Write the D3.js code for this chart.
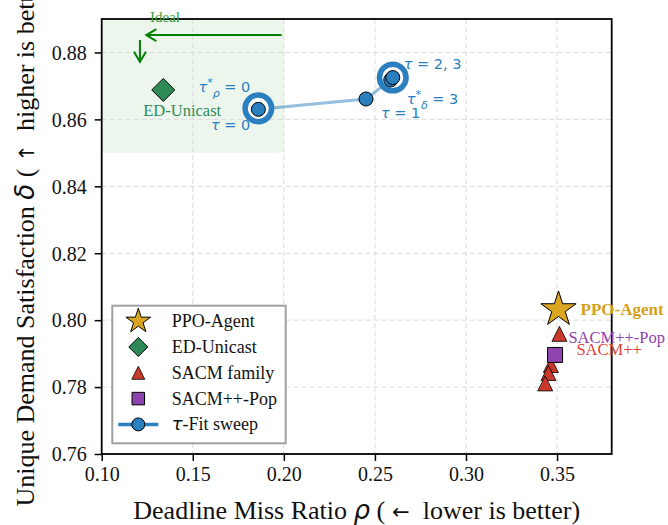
<!DOCTYPE html>
<html>
<head>
<meta charset="utf-8">
<script src="https://cdn.jsdelivr.net/npm/d3@7"></script>
<style>
  body { margin: 0; background: #fff; }
  svg { display: block; }
</style>
</head>
<body>
<svg id="chart" width="668" height="525"></svg>
<script>
// ---- data ----
const xDomain = [0.10, 0.38];
const yDomain = [0.76, 0.89];
const xTicks = [0.10, 0.15, 0.20, 0.25, 0.30, 0.35];
const yTicks = [0.76, 0.78, 0.80, 0.82, 0.84, 0.86, 0.88];

// tau-Fit sweep, tau = 0..3
const tauValues = [0, 1, 2, 3];
const tauMiss = [0.1860, 0.2451, 0.2587, 0.2598];
const tauSat  = [0.8630, 0.8661, 0.8718, 0.8725];

const ppoMiss = [0.3508];
const ppoSat  = [0.8032];
const edMiss  = [0.1338];
const edSat   = [0.8688];
const sacmMiss = [0.3513, 0.3466, 0.3453, 0.3435];
const sacmSat  = [0.7959, 0.7866, 0.7842, 0.7811];
const popMiss = [0.3489];
const popSat  = [0.7896];

// "ideal" corner region and the two guide arrows
const idealX = [0.10, 0.20];
const idealY = [0.85, 0.89];
const arrowH = [[0.1988, 0.8852], [0.1245, 0.8852]];
const arrowV = [[0.1210, 0.8837], [0.1210, 0.8772]];

// ---- style ----
const C = {
  blue: "#2a7fbf", gold: "#daa520", green: "#2e8b57", red: "#c9392b",
  purple: "#8e44ad", sacmLabel: "#d9443a", ideal: "#008000"
};
const SERIF = "'Liberation Serif','Times New Roman',Times,serif";
const MATH = "'DejaVu Sans',sans-serif";

const plot = { left: 101.7, right: 611.7, top: 19, bottom: 454 };

const svg = d3.select("#chart");
const x = d3.scaleLinear().domain(xDomain).range([plot.left, plot.right]);
const y = d3.scaleLinear().domain(yDomain).range([plot.bottom, plot.top]);

// marker paths
function starPath(R) {
  const r = R * 0.381966, pts = [];
  for (let i = 0; i < 10; i++) {
    const a = -Math.PI / 2 + i * Math.PI / 5, rr = i % 2 ? r : R;
    pts.push([rr * Math.cos(a), rr * Math.sin(a)]);
  }
  return "M" + pts.map(p => p.join(",")).join("L") + "Z";
}
const diamondPath = h => `M0,${-h}L${h},0L0,${h}L${-h},0Z`;
const trianglePath = s => `M0,${-s / 2}L${s / 2},${s / 2}L${-s / 2},${s / 2}Z`;
const squarePath = s => `M${-s / 2},${-s / 2}h${s}v${s}h${-s}Z`;

// ideal region shading
svg.append("rect")
  .attr("x", x(idealX[0])).attr("y", y(idealY[1]))
  .attr("width", x(idealX[1]) - x(idealX[0]))
  .attr("height", y(idealY[0]) - y(idealY[1]))
  .attr("fill", "#008000").attr("fill-opacity", 0.07);

// grid
const grid = svg.append("g").attr("stroke", "#dadada").attr("stroke-width", 1)
  .attr("stroke-dasharray", "5,3");
grid.selectAll(".gx").data(xTicks.slice(1)).join("line")
  .attr("x1", d => x(d)).attr("x2", d => x(d))
  .attr("y1", plot.top).attr("y2", plot.bottom);
grid.selectAll(".gy").data(yTicks.slice(1)).join("line")
  .attr("y1", d => y(d)).attr("y2", d => y(d))
  .attr("x1", plot.left).attr("x2", plot.right);

// axes
const xAxis = d3.axisBottom(x).tickValues(xTicks).tickFormat(d3.format(".2f"))
  .tickSize(7).tickPadding(6);
const yAxis = d3.axisLeft(y).tickValues(yTicks).tickFormat(d3.format(".2f"))
  .tickSize(7).tickPadding(8);
const gx = svg.append("g").attr("transform", `translate(0,${plot.bottom})`).call(xAxis);
const gy = svg.append("g").attr("transform", `translate(${plot.left},0)`).call(yAxis);
[gx, gy].forEach(g => {
  g.select(".domain").remove();
  g.selectAll(".tick line").attr("stroke", "#000").attr("stroke-width", 1.5);
  g.selectAll(".tick text").attr("fill", "#111").style("font-family", SERIF)
    .style("font-size", "20px");
});
gy.selectAll(".tick text").attr("dy", "0.34em");

// sweep connecting line
const line = d3.line().x(i => x(tauMiss[i])).y(i => y(tauSat[i]));
svg.append("path").datum(d3.range(tauValues.length))
  .attr("d", line).attr("fill", "none")
  .attr("stroke", C.blue).attr("stroke-opacity", 0.5).attr("stroke-width", 3);

// highlight rings around tau*_rho (tau=0) and tau*_delta (tau=3)
const ringIdx = [0, 3];
svg.selectAll(".ring").data(ringIdx).join("circle")
  .attr("cx", i => x(tauMiss[i])).attr("cy", i => y(tauSat[i]) - (i === 3 ? 0 : 1))
  .attr("r", 13.3).attr("fill", "#fff")
  .attr("stroke", C.blue).attr("stroke-width", 5.5);

// sweep points
svg.selectAll(".tau").data(d3.range(tauValues.length)).join("circle")
  .attr("cx", i => x(tauMiss[i])).attr("cy", i => y(tauSat[i]))
  .attr("r", 7).attr("fill", C.blue).attr("stroke", "#000").attr("stroke-width", 1);

// ED-Unicast
svg.selectAll(".ed").data(d3.range(edMiss.length)).join("path")
  .attr("d", diamondPath(11.5))
  .attr("transform", i => `translate(${x(edMiss[i])},${y(edSat[i])})`)
  .attr("fill", C.green).attr("stroke", "#000").attr("stroke-width", 1);

// SACM family
svg.selectAll(".sacm").data(d3.range(sacmMiss.length)).join("path")
  .attr("d", trianglePath(15))
  .attr("transform", i => `translate(${x(sacmMiss[i])},${y(sacmSat[i])})`)
  .attr("fill", C.red).attr("stroke", "#000").attr("stroke-width", 0.8);

// SACM++-Pop
svg.selectAll(".pop").data(d3.range(popMiss.length)).join("path")
  .attr("d", squarePath(15))
  .attr("transform", i => `translate(${x(popMiss[i])},${y(popSat[i])})`)
  .attr("fill", C.purple).attr("stroke", "#000").attr("stroke-width", 1);

// PPO-Agent
svg.selectAll(".ppo").data(d3.range(ppoMiss.length)).join("path")
  .attr("d", starPath(18.5))
  .attr("transform", i => `translate(${x(ppoMiss[i])},${y(ppoSat[i])})`)
  .attr("fill", C.gold).attr("stroke", "#000").attr("stroke-width", 1);

// frame
svg.append("rect").attr("x", plot.left).attr("y", plot.top)
  .attr("width", plot.right - plot.left).attr("height", plot.bottom - plot.top)
  .attr("fill", "none").attr("stroke", "#000").attr("stroke-width", 1.8);

// ideal arrows
function arrow(seg) {
  const [p0, p1] = seg.map(p => [x(p[0]), y(p[1])]);
  const ang = Math.atan2(p1[1] - p0[1], p1[0] - p0[0]);
  const L = 10, Wd = 6;
  const b = [p1[0] - L * Math.cos(ang), p1[1] - L * Math.sin(ang)];
  const n = [-Math.sin(ang), Math.cos(ang)];
  const g = svg.append("g").attr("stroke", C.ideal).attr("stroke-width", 2)
    .attr("fill", "none");
  g.append("line").attr("x1", p0[0]).attr("y1", p0[1]).attr("x2", p1[0]).attr("y2", p1[1]);
  g.append("path").attr("d",
    `M${b[0] + n[0] * Wd},${b[1] + n[1] * Wd}L${p1[0]},${p1[1]}L${b[0] - n[0] * Wd},${b[1] - n[1] * Wd}`);
}
arrow(arrowH);
arrow(arrowV);
svg.append("text").attr("x", 165).attr("y", 22).attr("text-anchor", "middle")
  .attr("fill", "#3a9e3a").style("font-family", SERIF).style("font-size", "15px")
  .text("Ideal");

// point annotations
function mathLabel(px, py, anchor, parts) {
  const t = svg.append("text").attr("x", px).attr("y", py).attr("text-anchor", anchor)
    .attr("fill", C.blue).style("font-family", MATH).style("font-size", "14.5px");
  parts.forEach(p => {
    const s = t.append("tspan").text(p.t);
    if (p.i) s.style("font-style", "italic");
    if (p.dy) s.attr("dy", p.dy);
    if (p.fs) s.style("font-size", p.fs);
  });
  return t;
}
const p0 = [x(tauMiss[0]), y(tauSat[0])];
const p1 = [x(tauMiss[1]), y(tauSat[1])];
const p3 = [x(tauMiss[3]), y(tauSat[3])];
mathLabel(p0[0] - 8, p0[1] - 17, "end", [
  { t: "τ", i: true }, { t: "*", dy: -6, fs: "11px" }, { t: "ρ", i: true, dy: 11, fs: "11px" },
  { t: " = 0", dy: -5 }]);
mathLabel(p0[0] - 8, p0[1] + 21, "end", [{ t: "τ", i: true }, { t: " = " + tauValues[0] }]);
mathLabel(p1[0] + 15, p1[1] + 19, "start", [{ t: "τ", i: true }, { t: " = " + tauValues[1] }]);
mathLabel(p3[0] + 11, p3[1] - 9, "start", [{ t: "τ", i: true }, { t: ` = ${tauValues[2]}, ${tauValues[3]}` }]);
mathLabel(p3[0] + 14, p3[1] + 26, "start", [
  { t: "τ", i: true }, { t: "*", dy: -6, fs: "11px" }, { t: "δ", i: true, dy: 11, fs: "11px" },
  { t: " = 3", dy: -5 }]);

svg.append("text").attr("x", x(edMiss[0]) - 20).attr("y", y(edSat[0]) + 26)
  .attr("fill", C.green).style("font-family", SERIF).style("font-size", "16.5px")
  .text("ED-Unicast");
svg.append("text").attr("x", x(ppoMiss[0]) + 22).attr("y", y(ppoSat[0]) + 5.5)
  .attr("fill", "#d4a017").style("font-family", SERIF).style("font-weight", "bold")
  .style("font-size", "17px").text("PPO-Agent");
svg.append("text").attr("x", x(sacmMiss[0]) + 9).attr("y", y(sacmSat[0]) + 9)
  .attr("fill", C.purple).style("font-family", SERIF).style("font-size", "16.5px")
  .text("SACM++-Pop");
svg.append("text").attr("x", x(sacmMiss[0]) + 17).attr("y", y(sacmSat[0]) + 21)
  .attr("fill", C.sacmLabel).style("font-family", SERIF).style("font-size", "16.5px")
  .text("SACM++");

// legend
const legendItems = ["PPO-Agent", "ED-Unicast", "SACM family", "SACM++-Pop", "τ-Fit sweep"];
const lg = svg.append("g").attr("transform", "translate(112.3,305.7)");
lg.append("rect").attr("width", 173.4).attr("height", 137.6)
  .attr("fill", "#fff").attr("fill-opacity", 0.9)
  .attr("stroke", "#a0a0a0").attr("stroke-width", 2);
legendItems.forEach((name, i) => {
  const cy = 15.5 + i * 25.8, mx = 26;
  const row = lg.append("g").attr("transform", `translate(0,${cy})`);
  if (i === 0) row.append("path").attr("d", starPath(13)).attr("transform", `translate(${mx},0)`)
    .attr("fill", C.gold).attr("stroke", "#000").attr("stroke-width", 1);
  if (i === 1) row.append("path").attr("d", diamondPath(9.5)).attr("transform", `translate(${mx},0)`)
    .attr("fill", C.green).attr("stroke", "#000").attr("stroke-width", 1);
  if (i === 2) row.append("path").attr("d", trianglePath(13)).attr("transform", `translate(${mx},0)`)
    .attr("fill", C.red).attr("stroke", "#000").attr("stroke-width", 0.8);
  if (i === 3) row.append("path").attr("d", squarePath(12.5)).attr("transform", `translate(${mx},0)`)
    .attr("fill", C.purple).attr("stroke", "#000").attr("stroke-width", 1);
  if (i === 4) {
    row.append("line").attr("x1", 6).attr("x2", 46).attr("stroke", C.blue).attr("stroke-width", 3.5);
    row.append("circle").attr("cx", mx).attr("r", 6.5).attr("fill", C.blue)
      .attr("stroke", "#000").attr("stroke-width", 1);
  }
  const t = row.append("text").attr("x", 59.4).attr("y", 6)
    .attr("fill", "#111").style("font-family", SERIF).style("font-size", "18px");
  if (i === 4) {
    t.append("tspan").style("font-family", MATH).style("font-style", "italic").text("τ");
    t.append("tspan").text("-Fit sweep");
  } else t.text(name);
});

// axis titles
const xt = svg.append("text").attr("x", (plot.left + plot.right) / 2).attr("y", 519)
  .attr("text-anchor", "middle").attr("fill", "#111")
  .style("font-family", SERIF).style("font-size", "26px");
xt.append("tspan").text("Deadline Miss Ratio ");
xt.append("tspan").style("font-family", MATH).style("font-style", "italic").text("ρ");
xt.append("tspan").text(" (");
xt.append("tspan").style("font-family", MATH).style("font-size", "21px").text("\u00a0←\u00a0");
xt.append("tspan").text(" lower is better)");

const yt = svg.append("text")
  .attr("transform", `translate(34,${(plot.top + plot.bottom) / 2}) rotate(-90)`)
  .attr("text-anchor", "middle").attr("fill", "#111")
  .style("font-family", SERIF).style("font-size", "26px");
yt.append("tspan").text("Unique Demand Satisfaction ");
yt.append("tspan").style("font-family", MATH).style("font-style", "italic").text("δ");
yt.append("tspan").text(" (");
yt.append("tspan").style("font-family", MATH).style("font-size", "21px").text("\u00a0↑\u00a0");
yt.append("tspan").text(" higher is better)");
</script>
</body>
</html>
